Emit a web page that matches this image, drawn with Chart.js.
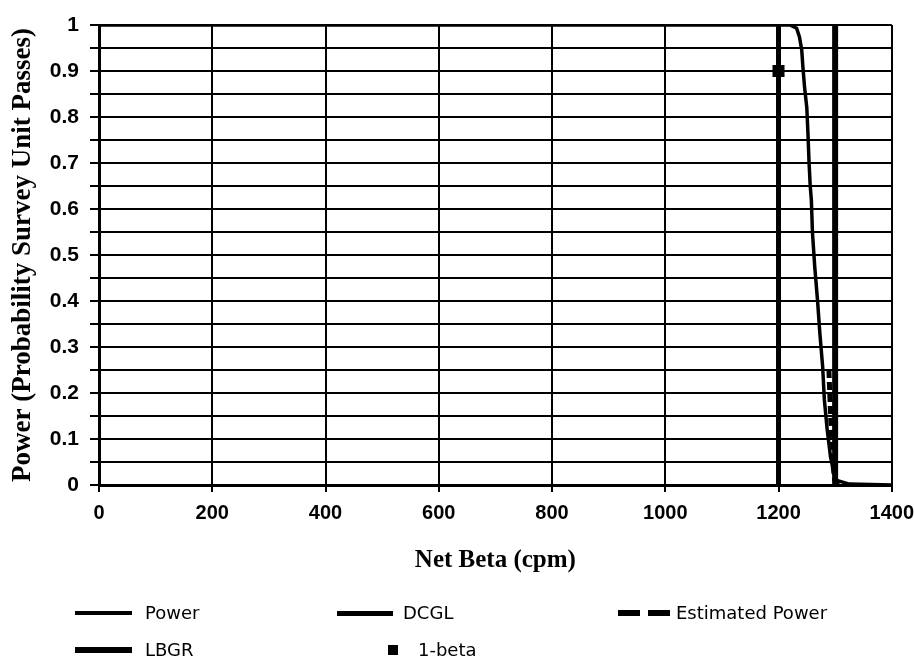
<!DOCTYPE html>
<html>
<head>
<meta charset="utf-8">
<script src="https://cdn.jsdelivr.net/npm/chart.js@4/dist/chart.umd.min.js"></script>
<style>
  html, body { margin: 0; padding: 0; background: #fff; }
  #wrap { position: relative; width: 914px; height: 658px; overflow: hidden; }
  #c { position: absolute; left: 0; top: 0; }
  .lg { position: absolute; font-family: "DejaVu Sans", sans-serif; font-size: 18px; color: #000; white-space: nowrap; }
  .sym { position: absolute; background: #000; }
</style>
</head>
<body>
<div id="wrap">
  <canvas id="c" width="923" height="658"></canvas>
</div>
<script>
// ---- data ----
const powerX = [0, 1200, 1220, 1232, 1237, 1241, 1243, 1246, 1250, 1252, 1254, 1256, 1258, 1260, 1264, 1269, 1273, 1278, 1281, 1286, 1292, 1298, 1303, 1325, 1400];
const powerY = [1, 1, 1, 0.993, 0.974, 0.946, 0.91, 0.865, 0.82, 0.765, 0.70, 0.65, 0.62, 0.548, 0.474, 0.40, 0.33, 0.257, 0.185, 0.12, 0.06, 0.025, 0.01, 0.002, 0];
const estPowerX = [1289, 1292, 1295, 1299, 1308];
const estPowerY = [0.25, 0.15, 0.06, 0.012, 0];
const dcglX = [1300, 1300];
const dcglY = [0, 1];
const lbgrX = [1200, 1200];
const lbgrY = [0, 1];
const oneBetaX = [1200];
const oneBetaY = [0.9];
const seriesLabels = ["Power", "DCGL", "Estimated Power", "LBGR", "1-beta"];
const xTitle = "Net Beta (cpm)";
const yTitle = "Power (Probability Survey Unit Passes)";

function pts(xs, ys) { return xs.map((x, i) => ({ x: x, y: ys[i] })); }

const datasets = [
  { label: seriesLabels[0], data: pts(powerX, powerY), borderColor: "#000", borderWidth: 3.5, pointRadius: 0, tension: 0 },
  { label: seriesLabels[1], data: pts(dcglX, dcglY), borderColor: "#000", borderWidth: 6, pointRadius: 0 },
  { label: seriesLabels[2], data: pts(estPowerX, estPowerY), borderColor: "#000", borderWidth: 5, borderDash: [8, 4], pointRadius: 0 },
  { label: seriesLabels[3], data: pts(lbgrX, lbgrY), borderColor: "#000", borderWidth: 5, pointRadius: 0 },
  { label: seriesLabels[4], data: pts(oneBetaX, oneBetaY), showLine: false, pointStyle: "rect", pointRadius: 8.5, backgroundColor: "#000", borderColor: "#000", borderWidth: 0 }
];

const tickFont = { family: "'Liberation Sans', Arial, sans-serif", size: 20, weight: "bold" };
const titleFont = { family: "'Liberation Serif', 'Times New Roman', serif", size: 25, weight: "bold" };

new Chart(document.getElementById("c"), {
  type: "line",
  data: { datasets: datasets },
  options: {
    responsive: false,
    devicePixelRatio: 1,
    animation: false,
    parsing: true,
    layout: { padding: { left: 0, right: 1, top: 25, bottom: 68 } },
    plugins: { legend: { display: false }, tooltip: { enabled: false } },
    scales: {
      x: {
        type: "linear", min: 0, max: 1400,
        ticks: { stepSize: 200, color: "#000", font: tickFont, padding: 9, maxRotation: 0, callback: (v) => String(v) },
        grid: { color: "#000", lineWidth: 2, tickLength: 7, tickColor: "#000", tickWidth: 2 },
        border: { color: "#000", width: 3 },
        title: { display: true, text: xTitle, color: "#000", font: titleFont, padding: { top: 0, bottom: 14 } },
        afterFit: (s) => { s.height = 105; }
      },
      y: {
        type: "linear", min: 0, max: 1,
        ticks: {
          stepSize: 0.05, autoSkip: false, color: "#000", font: { family: tickFont.family, size: 21, weight: "bold" }, padding: 11,
          callback: (v) => { const r = Math.round(v * 100); return r % 10 === 0 ? String(r / 100) : ""; }
        },
        grid: { color: "#000", lineWidth: 2, tickLength: 9, tickColor: "#000", tickWidth: 2 },
        border: { color: "#000", width: 3 },
        title: { display: true, text: yTitle, color: "#000", font: { family: titleFont.family, size: 27, weight: "bold" }, padding: { top: 7, bottom: 0 } },
        afterFit: (s) => { s.width = 99; }
      }
    }
  }
});

// ---- HTML legend built from the dataset labels ----
const legendSlots = [
  { x: 75, y: 613, sym: "line", w: 57, t: 4, tx: 145 },
  { x: 337, y: 613, sym: "line", w: 56, t: 5, tx: 403 },
  { x: 618, y: 613, sym: "dash", w: 52, t: 6, tx: 676 },
  { x: 75, y: 650, sym: "line", w: 57, t: 6, tx: 145 },
  { x: 388, y: 650, sym: "square", w: 10, t: 10, tx: 418 }
];
const wrap = document.getElementById("wrap");
datasets.forEach((ds, i) => {
  const s = legendSlots[i];
  if (s.sym === "dash") {
    const seg = Math.round(s.w * 0.42);
    [0, s.w - seg].forEach((off) => {
      const d = document.createElement("div");
      d.className = "sym";
      d.style.left = (s.x + off) + "px"; d.style.top = (s.y - s.t / 2) + "px";
      d.style.width = seg + "px"; d.style.height = s.t + "px";
      wrap.appendChild(d);
    });
  } else {
    const d = document.createElement("div");
    d.className = "sym";
    d.style.left = s.x + "px"; d.style.top = (s.y - s.t / 2) + "px";
    d.style.width = s.w + "px"; d.style.height = s.t + "px";
    wrap.appendChild(d);
  }
  const t = document.createElement("div");
  t.className = "lg";
  t.textContent = ds.label;
  t.style.left = s.tx + "px";
  t.style.top = (s.y - 12) + "px";
  t.style.lineHeight = "24px";
  wrap.appendChild(t);
});
</script>
</body>
</html>
